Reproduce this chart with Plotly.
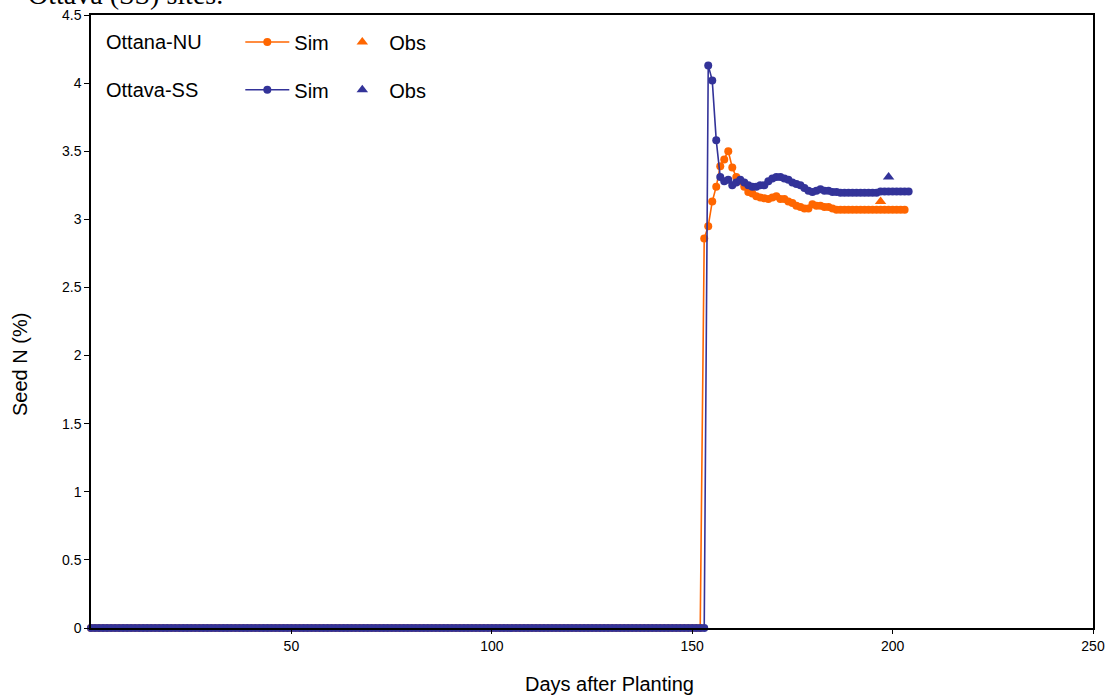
import plotly.graph_objects as go

# ---------------- data ----------------
# Ottana-NU simulated seed N (%): zero until day 152, then values from day 153
nu_start_day = 0
nu_zero_count = 153  # days 0..152
nu_values_after = [2.86, 2.95, 3.13, 3.24, 3.39, 3.44, 3.50, 3.38, 3.31, 3.28,
                   3.24, 3.20, 3.19, 3.17, 3.16, 3.155, 3.15, 3.16, 3.17, 3.15,
                   3.15, 3.13, 3.12, 3.10, 3.09, 3.08, 3.08, 3.11, 3.10, 3.10,
                   3.09, 3.09, 3.08, 3.07, 3.07, 3.07, 3.07, 3.07, 3.07, 3.07,
                   3.07, 3.07, 3.07, 3.07, 3.07, 3.07, 3.07, 3.07, 3.07, 3.07,
                   3.07]
nu_sim = [0.0] * nu_zero_count + nu_values_after
nu_days = list(range(nu_start_day, nu_start_day + len(nu_sim)))

# Ottava-SS simulated seed N (%): zero until day 153, then values from day 154
ss_start_day = 0
ss_zero_count = 154  # days 0..153
ss_values_after = [4.13, 4.02, 3.58, 3.31, 3.28, 3.29, 3.25, 3.27, 3.29, 3.27,
                   3.25, 3.24, 3.24, 3.25, 3.25, 3.28, 3.30, 3.31, 3.31, 3.30,
                   3.29, 3.27, 3.26, 3.25, 3.23, 3.21, 3.20, 3.21, 3.22, 3.21,
                   3.21, 3.20, 3.20, 3.195, 3.195, 3.195, 3.195, 3.195, 3.195, 3.195,
                   3.195, 3.195, 3.195, 3.205, 3.205, 3.205, 3.205, 3.205, 3.205, 3.205,
                   3.205]
ss_sim = [0.0] * ss_zero_count + ss_values_after
ss_days = list(range(ss_start_day, ss_start_day + len(ss_sim)))

# Observations
nu_obs_days = [197]
nu_obs = [3.13]
ss_obs_days = [199]
ss_obs = [3.31]

x_tickvals = [50, 100, 150, 200, 250]
y_tickvals = [0, 0.5, 1, 1.5, 2, 2.5, 3, 3.5, 4, 4.5]
y_ticktext = ["0", "0.5", "1", "1.5", "2", "2.5", "3", "3.5", "4", "4.5"]

ORANGE = "#FF6600"
BLUE = "#333399"
FONT = "Liberation Sans, Arial, sans-serif"

fig = go.Figure()

fig.add_trace(go.Scatter(x=nu_days, y=nu_sim, mode="lines+markers", name="Sim",
                         line=dict(color=ORANGE, width=1.6),
                         marker=dict(color=ORANGE, size=8, symbol="circle"),
                         cliponaxis=False, legend="legend"))
fig.add_trace(go.Scatter(x=nu_obs_days, y=nu_obs, mode="markers", name="Obs",
                         marker=dict(color=ORANGE, size=10, symbol="triangle-up"),
                         cliponaxis=False, legend="legend"))
fig.add_trace(go.Scatter(x=ss_days, y=ss_sim, mode="lines+markers", name="Sim",
                         line=dict(color=BLUE, width=1.6),
                         marker=dict(color=BLUE, size=8, symbol="circle"),
                         cliponaxis=False, legend="legend2"))
fig.add_trace(go.Scatter(x=ss_obs_days, y=ss_obs, mode="markers", name="Obs",
                         marker=dict(color=BLUE, size=10, symbol="triangle-up"),
                         cliponaxis=False, legend="legend2"))

legend_common = dict(orientation="h", xanchor="left", yanchor="middle",
                     font=dict(family=FONT, size=20, color="black"),
                     bgcolor="rgba(0,0,0,0)", borderwidth=0,
                     itemwidth=44, entrywidth=36, entrywidthmode="pixels",
                     itemclick=False, itemdoubleclick=False, tracegroupgap=0)

fig.update_layout(
    width=1113, height=695,
    margin=dict(l=91, r=20, t=15, b=67, pad=0),
    paper_bgcolor="white", plot_bgcolor="white",
    font=dict(family=FONT, size=14, color="black"),
    showlegend=True,
    legend=dict(x=0.149, y=0.956, **legend_common),
    legend2=dict(x=0.149, y=0.878, **legend_common),
    xaxis=dict(range=[0, 250], tickvals=x_tickvals, ticks="outside", ticklen=4,
               tickwidth=1, tickcolor="black", showgrid=False, zeroline=False,
               showline=True, linecolor="black", linewidth=1.5, mirror=True,
               automargin=False, tickfont=dict(family=FONT, size=14)),
    yaxis=dict(range=[0, 4.5], tickvals=y_tickvals, ticktext=y_ticktext, ticks="outside",
               ticklen=5, tickwidth=1, tickcolor="black", showgrid=False, zeroline=False,
               showline=True, linecolor="black", linewidth=1.5, mirror=True,
               automargin=False, tickfont=dict(family=FONT, size=14)),
)

# axis titles (placed as in the reference, slightly off-centre)
fig.add_annotation(text="Days after Planting", xref="paper", yref="paper", x=0.517, y=0,
                   xanchor="center", yanchor="middle", yshift=-56, showarrow=False,
                   font=dict(family=FONT, size=20, color="black"))
fig.add_annotation(text="Seed N (%)", xref="paper", yref="paper", x=0, y=0.429,
                   xanchor="center", yanchor="middle", xshift=-71, textangle=-90, showarrow=False,
                   font=dict(family=FONT, size=20, color="black"))

# legend row labels
fig.add_annotation(text="Ottana-NU", xref="paper", yref="paper", x=0, y=0.956,
                   xanchor="left", yanchor="middle", xshift=13, showarrow=False,
                   font=dict(family=FONT, size=20, color="black"))
fig.add_annotation(text="Ottava-SS", xref="paper", yref="paper", x=0, y=0.878,
                   xanchor="left", yanchor="middle", xshift=13, showarrow=False,
                   font=dict(family=FONT, size=20, color="black"))

# partially visible caption text at the top of the page
fig.add_annotation(text="Ottava (SS) sites.", xref="paper", yref="paper", x=0, y=1,
                   xanchor="left", yanchor="bottom", xshift=-65, yshift=3, showarrow=False,
                   font=dict(family="Liberation Serif, Times New Roman, serif", size=28, color="black"))

fig.write_html("out.html", config={"displayModeBar": False},
               post_script="document.body.style.margin='0px';")
